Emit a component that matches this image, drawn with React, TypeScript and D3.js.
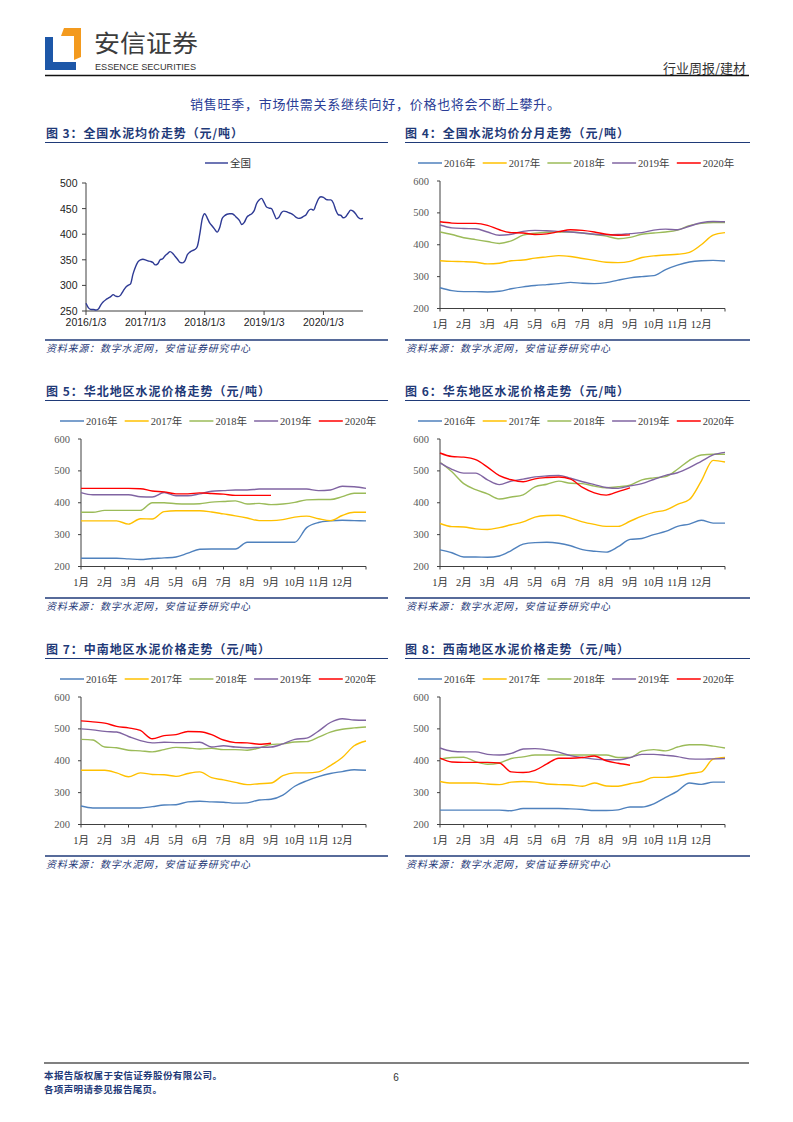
import * as d3 from "d3";

// ---- data ----
const months = ["1月", "2月", "3月", "4月", "5月", "6月", "7月", "8月", "9月", "10月", "11月", "12月"];
const yearNames = ["2016年", "2017年", "2018年", "2019年", "2020年"];
const yearColors = ["#4F81BD", "#FFC000", "#9BBB59", "#8064A2", "#FF0000"];
const regionTicks = [200, 300, 400, 500, 600];
const natTicks = [250, 300, 350, 400, 450, 500];
const natYearLabels = ["2016/1/3", "2017/1/3", "2018/1/3", "2019/1/3", "2020/1/3"];

// values every half month (index * 0.5 = month offset)
const nat2016 = [265, 256, 253, 253, 252, 254, 262, 268, 272, 275, 278, 282, 279, 278, 281, 289, 296, 300, 303, 322, 336, 346, 350, 351, 349];
const nat2017 = [350, 348, 347, 345, 340, 342, 350, 352, 358, 362, 366, 363, 357, 351, 345, 344, 348, 360, 365, 368, 370, 376, 400, 430, 438];
const nat2018 = [440, 432, 422, 416, 410, 404, 412, 430, 436, 439, 440, 440, 437, 432, 427, 419, 423, 433, 437, 440, 446, 460, 467, 470, 470];
const nat2019 = [462, 453, 451, 450, 440, 430, 433, 442, 445, 444, 442, 440, 437, 433, 431, 432, 435, 438, 446, 449, 447, 458, 469, 473, 472];
const nat2020 = [472, 468, 467, 467, 461, 447, 438, 437, 432, 434, 441, 447, 445, 440, 433, 430, 431];

const north2016 = [226, 226, 226, 226, 224, 222, 225, 227, 230, 242, 254, 255, 255, 255, 276, 276, 276, 276, 276, 322, 338, 343, 345, 344, 343];
const north2017 = [343, 343, 343, 343, 333, 350, 349, 372, 375, 375, 375, 371, 365, 359, 352, 344, 344, 347, 355, 358, 350, 344, 360, 370, 370];
const north2018 = [370, 370, 376, 376, 376, 376, 400, 400, 397, 396, 397, 402, 404, 406, 396, 398, 394, 396, 401, 409, 410, 410, 419, 430, 430];
const north2019 = [432, 425, 425, 425, 425, 419, 418, 432, 422, 422, 428, 436, 438, 440, 440, 443, 443, 443, 443, 443, 438, 440, 452, 450, 445];
const north2020 = [445, 445, 445, 445, 445, 444, 437, 434, 428, 428, 431, 429, 427, 423, 423, 423, 423];

const east2016 = [252, 243, 230, 230, 229, 233, 250, 270, 275, 276, 273, 265, 253, 248, 245, 262, 285, 288, 300, 310, 326, 333, 345, 336, 336];
const east2017 = [335, 325, 324, 318, 316, 322, 331, 340, 355, 360, 361, 352, 340, 332, 326, 326, 342, 358, 370, 377, 395, 410, 468, 533, 528];
const east2018 = [527, 497, 460, 441, 428, 412, 418, 425, 450, 458, 468, 461, 460, 452, 447, 450, 455, 472, 478, 482, 505, 533, 550, 552, 552];
const east2019 = [525, 505, 493, 493, 472, 457, 468, 474, 481, 484, 486, 477, 466, 457, 448, 445, 453, 460, 473, 486, 494, 510, 530, 550, 558];
const east2020 = [556, 545, 543, 535, 512, 485, 472, 466, 475, 479, 481, 474, 448, 431, 424, 435, 447];

const central2016 = [258, 252, 252, 252, 252, 252, 256, 261, 262, 271, 273, 271, 270, 267, 268, 277, 279, 292, 320, 337, 350, 360, 366, 372, 370];
const central2017 = [370, 370, 370, 362, 350, 362, 357, 356, 351, 360, 365, 347, 340, 332, 325, 328, 330, 353, 362, 362, 365, 385, 410, 447, 462];
const central2018 = [467, 465, 443, 441, 433, 431, 428, 435, 442, 440, 437, 439, 435, 435, 433, 440, 451, 453, 459, 460, 474, 490, 499, 503, 506];
const central2019 = [500, 497, 492, 490, 476, 463, 456, 458, 457, 457, 458, 443, 447, 443, 441, 442, 443, 453, 467, 471, 493, 520, 532, 528, 527];
const central2020 = [525, 522, 518, 508, 503, 495, 469, 479, 482, 492, 491, 482, 465, 457, 456, 452, 455];

const sw2016 = [245, 245, 245, 245, 245, 245, 243, 250, 250, 250, 250, 249, 247, 244, 244, 246, 255, 255, 265, 285, 305, 330, 326, 333, 333];
const sw2017 = [335, 330, 330, 330, 327, 325, 333, 335, 333, 327, 325, 324, 320, 330, 321, 320, 328, 335, 348, 348, 352, 360, 365, 405, 410];
const sw2018 = [405, 410, 411, 397, 389, 393, 407, 412, 418, 418, 418, 418, 418, 418, 418, 410, 410, 430, 435, 431, 443, 450, 450, 446, 440];
const sw2019 = [440, 430, 428, 428, 420, 418, 423, 437, 438, 434, 427, 416, 410, 405, 403, 403, 410, 420, 420, 417, 413, 406, 405, 406, 407];
const sw2020 = [408, 396, 395, 395, 395, 393, 365, 363, 370, 390, 408, 408, 410, 415, 400, 392, 386];

// ---- layout ----
const rows = [133, 391, 649];
const cols = [
  { titleX: 46, x0: 45, x1: 388, plotX0: 81, plotX1: 366, legendX0: 60 },
  { titleX: 405, x0: 405, x1: 750, plotX0: 440, plotX1: 725, legendX0: 418 },
];
const navy = "#1f3a78";
const serif = '"Liberation Serif", "Times New Roman", "Noto Sans CJK SC", serif';
const cjk = '"Noto Sans CJK SC", sans-serif';
const sans = '"Liberation Sans", Arial, sans-serif';

const Panel = ({ col, row, title, titleLen }) => {
  const c = cols[col];
  const R = rows[row];
  return (
    <g>
      <text x={c.titleX} y={R + 4.5} fontFamily={cjk} fontWeight="bold" fontSize={12}
        fill={navy} textLength={titleLen} lengthAdjust="spacing">{title}</text>
      <line x1={c.x0} x2={c.x1} y1={R + 9.5} y2={R + 9.5} stroke={navy} strokeWidth={1.2} />
      <line x1={c.x0} x2={c.x1} y1={R + 207} y2={R + 207} stroke={navy} strokeWidth={1.3} />
      <text x={c.x0 + 1} y={R + 219} fontFamily={cjk} fontStyle="italic" fontSize={10}
        fill={navy} textLength={204} lengthAdjust="spacing">资料来源：数字水泥网，安信证券研究中心</text>
    </g>
  );
};

const MonthChart = ({ col, row, title, series }) => {
  const c = cols[col];
  const R = rows[row];
  const top = R + 48;
  const bottom = R + 175.5;
  const x = d3.scaleLinear().domain([0, 12]).range([c.plotX0, c.plotX1]);
  const y = d3.scaleLinear().domain([200, 600]).range([bottom, top]);
  const line = d3
    .line<number>()
    .x((_, i) => x(i * 0.5))
    .y((d) => y(d))
    .curve(d3.curveMonotoneX);
  return (
    <g>
      <Panel col={col} row={row} title={title} titleLen={224} />
      {yearNames.map((name, i) => {
        const lx = c.legendX0 + i * 64.7;
        return (
          <g key={name}>
            <line x1={lx} x2={lx + 24} y1={R + 30} y2={R + 30} stroke={yearColors[i]} strokeWidth={1.5} />
            <text x={lx + 26} y={R + 34} fontFamily={serif} fontSize={10.5} fill="#404040">{name}</text>
          </g>
        );
      })}
      <line x1={c.plotX0} x2={c.plotX0} y1={top} y2={bottom} stroke="#404040" strokeWidth={1} />
      <line x1={c.plotX0} x2={c.plotX1} y1={bottom} y2={bottom} stroke="#404040" strokeWidth={1} />
      {regionTicks.map((t) => (
        <g key={t}>
          <line x1={c.plotX0 - 3} x2={c.plotX0} y1={y(t)} y2={y(t)} stroke="#404040" />
          <text x={c.plotX0 - 11} y={y(t) + 3.5} textAnchor="end" fontFamily={serif} fontSize={10.5} fill="#595959">{t}</text>
        </g>
      ))}
      {d3.range(13).map((m) => (
        <line key={m} x1={x(m)} x2={x(m)} y1={bottom} y2={bottom + 3} stroke="#404040" />
      ))}
      {months.map((m, i) => (
        <text key={m} x={x(i)} y={bottom + 19} textAnchor="middle" fontFamily={serif} fontSize={10.5} fill="#333">{m}</text>
      ))}
      {series.map((s, i) => (
        <path key={i} d={line(s) || ""} fill="none" stroke={yearColors[i]} strokeWidth={1.4} />
      ))}
    </g>
  );
};

const NationalChart = () => {
  const R = rows[0];
  const x0 = 86;
  const x1 = 363;
  const top = R + 50;
  const bottom = R + 178;
  const yearly = [nat2016, nat2017, nat2018, nat2019, nat2020];
  const pts: [number, number][] = [];
  yearly.forEach((s, yi) => {
    const n = yi < yearly.length - 1 ? s.length - 1 : s.length;
    for (let i = 0; i < n; i++) pts.push([yi + (i * 0.5) / 12, s[i]]);
  });
  const x = d3.scaleLinear().domain([0, 4 + 8 / 12]).range([x0, x1]);
  const y = d3.scaleLinear().domain([250, 500]).range([bottom, top]);
  const line = d3
    .line<[number, number]>()
    .x((d) => x(d[0]))
    .y((d) => y(d[1]))
    .curve(d3.curveMonotoneX);
  return (
    <g>
      <Panel col={0} row={0} title="图 3：全国水泥均价走势（元/吨）" titleLen={197} />
      <line x1={205} x2={228} y1={R + 30} y2={R + 30} stroke="#2E3A94" strokeWidth={1.4} />
      <text x={230} y={R + 34} fontFamily={cjk} fontSize={10.5} fill="#333">全国</text>
      <line x1={x0} x2={x0} y1={top} y2={bottom} stroke="#404040" />
      <line x1={x0} x2={x1} y1={bottom} y2={bottom} stroke="#404040" />
      {natTicks.map((t) => (
        <g key={t}>
          <line x1={x0 - 4} x2={x0} y1={y(t)} y2={y(t)} stroke="#404040" />
          <text x={x0 - 8.5} y={y(t) + 4} textAnchor="end" fontFamily={sans} fontSize={10.5} fill="#222">{t}</text>
        </g>
      ))}
      {natYearLabels.map((l, i) => (
        <g key={l}>
          <line x1={x(i)} x2={x(i)} y1={bottom} y2={bottom + 4} stroke="#404040" />
          <text x={x(i)} y={bottom + 15} textAnchor="middle" fontFamily={sans} fontSize={10.5} fill="#222">{l}</text>
        </g>
      ))}
      <path d={line(pts) || ""} fill="none" stroke="#2E3A94" strokeWidth={1.4} />
    </g>
  );
};

export default function App() {
  return (
    <div style={{ position: "absolute", left: 0, top: 0 }}>
      <svg width={793} height={1122} style={{ display: "block", background: "#fff" }}>
        {/* header */}
        <path d="M45,37 L53,37 L53,62 L76,62 L76,70 L45,70 Z" fill="#1d57a8" />
        <path d="M64,28 L81,28 L81,57 L74,60 L74,36 L61,36 Z" fill="#f39a1e" />
        <text x={94} y={52} fontFamily={cjk} fontSize={24} fill="#3c3c3c" textLength={104} lengthAdjust="spacingAndGlyphs">安信证券</text>
        <text x={95} y={70} fontFamily={sans} fontSize={9.5} fill="#333" textLength={101} lengthAdjust="spacingAndGlyphs">ESSENCE SECURITIES</text>
        <text x={746} y={73} textAnchor="end" fontFamily={cjk} fontSize={13} fill="#333">行业周报/建材</text>
        <line x1={45} x2={749} y1={75.5} y2={75.5} stroke="#111" strokeWidth={1.5} />
        <text x={190} y={109} fontFamily={cjk} fontSize={13} fill="#2a3d96" textLength={370} lengthAdjust="spacing">销售旺季，市场供需关系继续向好，价格也将会不断上攀升。</text>

        <NationalChart />
        <MonthChart col={1} row={0} title="图 4：全国水泥均价分月走势（元/吨）" series={[nat2016, nat2017, nat2018, nat2019, nat2020]} />
        <MonthChart col={0} row={1} title="图 5：华北地区水泥价格走势（元/吨）" series={[north2016, north2017, north2018, north2019, north2020]} />
        <MonthChart col={1} row={1} title="图 6：华东地区水泥价格走势（元/吨）" series={[east2016, east2017, east2018, east2019, east2020]} />
        <MonthChart col={0} row={2} title="图 7：中南地区水泥价格走势（元/吨）" series={[central2016, central2017, central2018, central2019, central2020]} />
        <MonthChart col={1} row={2} title="图 8：西南地区水泥价格走势（元/吨）" series={[sw2016, sw2017, sw2018, sw2019, sw2020]} />

        {/* footer */}
        <line x1={44} x2={749} y1={1063} y2={1063} stroke="#808080" strokeWidth={2} />
        <text x={44} y={1079} fontFamily={cjk} fontWeight="bold" fontSize={9.5} fill={navy} textLength={178} lengthAdjust="spacing">本报告版权属于安信证券股份有限公司。</text>
        <text x={44} y={1093} fontFamily={cjk} fontWeight="bold" fontSize={9.5} fill={navy} textLength={118} lengthAdjust="spacing">各项声明请参见报告尾页。</text>
        <text x={396} y={1081} textAnchor="middle" fontFamily={sans} fontSize={10} fill="#333">6</text>
      </svg>
    </div>
  );
}
